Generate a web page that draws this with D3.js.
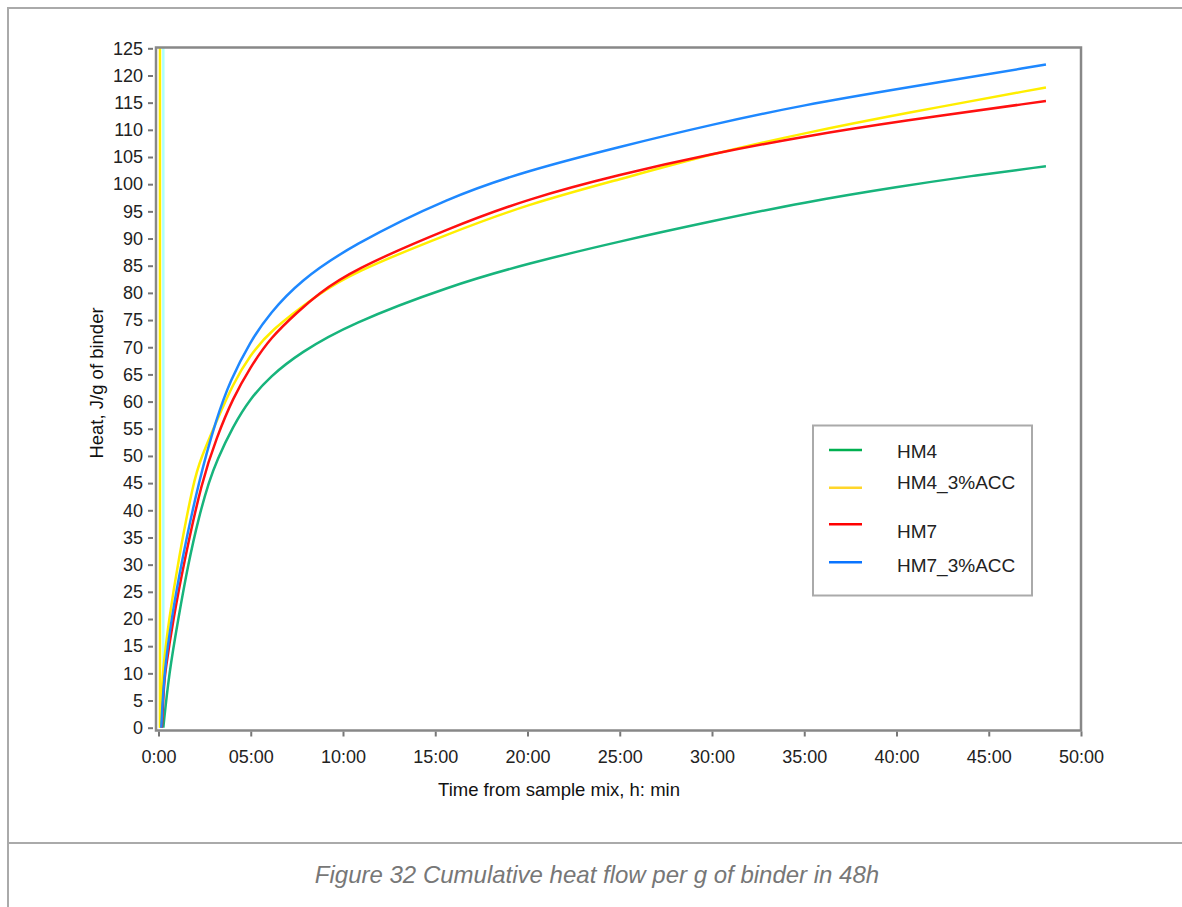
<!DOCTYPE html>
<html>
<head>
<meta charset="utf-8">
<script src="https://cdn.jsdelivr.net/npm/d3@7"></script>
<style>
  body { margin: 0; background: #fff; }
  svg { display: block; font-family: "Liberation Sans", Arial, sans-serif; }
</style>
</head>
<body>
<svg id="chart" width="1182" height="907"></svg>
<script>
// data: [hours, J/g]
const seriesNames = ['HM4', 'HM4_3%ACC', 'HM7', 'HM7_3%ACC'];

const hm4 = [[0.26, 0], [0.57, 10], [1.07, 20], [1.6, 30], [2.2, 39], [2.75, 45.4], [3.15, 49.1],
    [4.04, 55.5], [4.96, 60.5], [6.04, 64.6], [7.67, 69.0], [10.38, 74.3], [15.8, 81.3], [20, 85.4],
    [25, 89.5], [30, 93.2], [35, 96.7], [40.2, 99.6], [44, 101.5], [48.1, 103.3]];

const hm4Acc = [[0.1, 0], [0.2, 10], [0.57, 20], [1.07, 30.7], [1.9, 45.4], [2.3, 49.6], [3.15, 56.4],
    [4.04, 63.3], [4.96, 68.5], [6.04, 73.0], [8.6, 79.6], [10.38, 83.5], [15.8, 91.0], [20, 96.3],
    [25, 100.9], [30, 105.6], [35, 109.4], [40.2, 112.9], [48.1, 117.8]];

const hm7 = [[0.18, 0], [0.3, 8], [0.35, 10], [0.8, 20], [1.4, 30.7], [2.35, 45.4], [3.15, 53.4],
    [4.04, 60.7], [4.96, 66.2], [6.04, 71.7], [7.67, 76.9], [8.6, 79.6], [10.38, 84.0],
    [15.8, 92.0], [20, 97.3], [25, 101.8], [30, 105.6], [35, 108.8], [40.2, 111.6], [48.1, 115.3]];

const hm7Acc = [[0.15, 0], [0.3, 10], [0.7, 20], [1.26, 30.7], [2.18, 45.4], [3.15, 57.0],
    [3.88, 63.8], [4.96, 71.0], [6.04, 76.3], [7.67, 82.2], [10.38, 88.6], [15.8, 97.7], [20, 102.5],
    [25, 106.9], [30, 111.0], [35, 114.6], [40.2, 117.6], [48.1, 122.0]];

// the two vertical traces at the start of the run
const spikeYellow = [[0.08, 0], [0.08, 130]];
const spikeCyan = [[0.26, 0], [0.26, 130]];

const xTicks = [0, 5, 10, 15, 20, 25, 30, 35, 40, 45, 50];
const xTickLabels = ['0:00', '05:00', '10:00', '15:00', '20:00', '25:00', '30:00', '35:00', '40:00', '45:00', '50:00'];
const yTicks = d3.range(0, 126, 5);

const lineColors = ['#17b47c', '#ffee00', '#ff1010', '#1e88ff'];
const swatchColors = ['#00b050', '#ffd62a', '#ff0000', '#0a74ff'];

const FONT = '"Liberation Sans", Arial, sans-serif';
const svg = d3.select('#chart');

// page frame and caption separator
svg.append('path')
    .attr('d', 'M1182 8 H8 V907')
    .attr('fill', 'none').attr('stroke', '#aaa').attr('stroke-width', 2);
svg.append('line')
    .attr('x1', 8).attr('x2', 1182).attr('y1', 843).attr('y2', 843)
    .attr('stroke', '#aaa').attr('stroke-width', 2);

const box = { left: 156, right: 1081, top: 47.5, bottom: 730.5 };

const x = d3.scaleLinear().domain([0, 50]).range([158.5, 1081]);
const y = d3.scaleLinear().domain([0, 125]).range([727.7, 48.3]);

svg.append('defs').append('clipPath').attr('id', 'clip')
    .append('rect')
    .attr('x', box.left).attr('y', box.top)
    .attr('width', box.right - box.left).attr('height', box.bottom - box.top);

// y axis ticks + labels
const yAxis = svg.append('g')
    .attr('transform', `translate(${box.left - 3},0)`)
    .call(d3.axisLeft(y).tickValues(yTicks).tickSize(5).tickPadding(5));
yAxis.select('.domain').remove();
yAxis.selectAll('line').attr('stroke', '#777').attr('stroke-width', 2);
yAxis.selectAll('text').attr('font-size', 18).attr('fill', '#222').attr('font-family', FONT);

// x axis ticks + labels
const xAxis = svg.append('g')
    .attr('transform', `translate(0,${box.bottom + 1})`)
    .call(d3.axisBottom(x).tickValues(xTicks).tickSize(5).tickPadding(14)
        .tickFormat((d, i) => xTickLabels[i]));
xAxis.select('.domain').remove();
xAxis.selectAll('line').attr('stroke', '#777').attr('stroke-width', 2);
xAxis.selectAll('text').attr('font-size', 18).attr('fill', '#222').attr('font-family', FONT);

// curves
const plot = svg.append('g').attr('clip-path', 'url(#clip)');

const straight = d3.line().x(d => x(d[0])).y(d => y(d[1]));
plot.append('path').attr('d', straight(spikeCyan))
    .attr('fill', 'none').attr('stroke', '#aaffff').attr('stroke-width', 2.5);
plot.append('path').attr('d', straight(spikeYellow))
    .attr('fill', 'none').attr('stroke', '#ffee00').attr('stroke-width', 2.5);

const smooth = d3.line().x(d => x(d[0])).y(d => y(d[1])).curve(d3.curveBasis);
[hm4, hm4Acc, hm7, hm7Acc].forEach((data, i) => {
    plot.append('path')
        .attr('d', smooth(data))
        .attr('fill', 'none')
        .attr('stroke', lineColors[i])
        .attr('stroke-width', 2.5)
        .attr('stroke-linejoin', 'round');
});

// plot frame
svg.append('rect')
    .attr('x', box.left).attr('y', box.top)
    .attr('width', box.right - box.left).attr('height', box.bottom - box.top)
    .attr('fill', 'none').attr('stroke', '#888').attr('stroke-width', 2.5);

// legend
const legend = svg.append('g');
legend.append('rect')
    .attr('x', 813).attr('y', 425.5).attr('width', 219).attr('height', 170)
    .attr('fill', '#fff').attr('stroke', '#aaa').attr('stroke-width', 2);
const swatchY = [450, 487.7, 524.3, 562.3];
const labelY = [451.7, 482.7, 531.7, 565];
seriesNames.forEach((name, i) => {
    legend.append('line')
        .attr('x1', 829).attr('x2', 862).attr('y1', swatchY[i]).attr('y2', swatchY[i])
        .attr('stroke', swatchColors[i]).attr('stroke-width', 2.5);
    legend.append('text')
        .attr('x', 897).attr('y', labelY[i]).attr('dy', '0.35em')
        .attr('font-size', 19).attr('fill', '#222')
        .text(name);
});

// axis titles
svg.append('text')
    .attr('transform', 'translate(103,383) rotate(-90)')
    .attr('text-anchor', 'middle')
    .attr('font-size', 18.5).attr('fill', '#111')
    .text('Heat, J/g of binder');
svg.append('text')
    .attr('x', 559).attr('y', 796)
    .attr('text-anchor', 'middle')
    .attr('font-size', 18.5).attr('fill', '#111')
    .text('Time from sample mix, h: min');

// caption
svg.append('text')
    .attr('x', 597).attr('y', 883)
    .attr('text-anchor', 'middle')
    .attr('font-size', 24).attr('font-style', 'italic').attr('fill', '#777')
    .text('Figure 32 Cumulative heat flow per g of binder in 48h');
</script>
</body>
</html>
